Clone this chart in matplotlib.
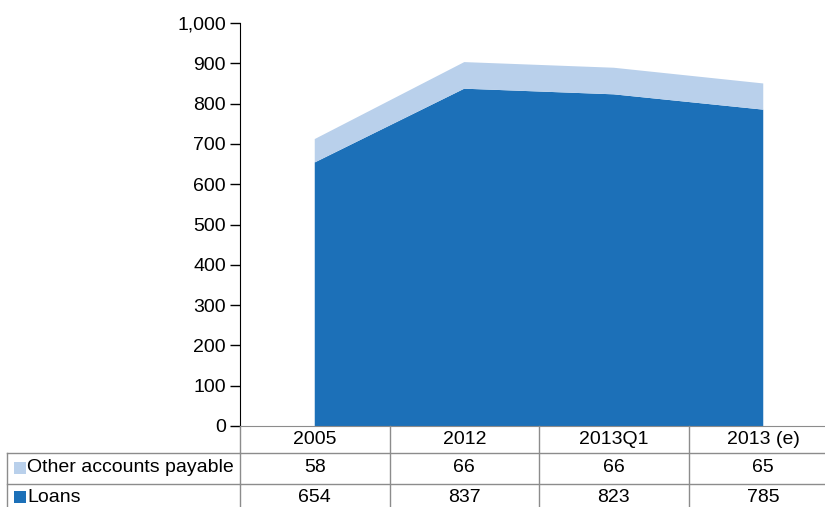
import matplotlib
matplotlib.use("Agg")
import matplotlib.pyplot as plt
from matplotlib.lines import Line2D
from matplotlib.patches import Rectangle
import numpy as np

categories = ["2005", "2012", "2013Q1", "2013 (e)"]
loans = [654, 837, 823, 785]
other_payable = [58, 66, 66, 65]
series_names = ["Other accounts payable", "Loans"]
yticks = [0, 100, 200, 300, 400, 500, 600, 700, 800, 900, 1000]

c_loans = "#1C70B8"
c_other = "#B9D0EB"
grid_c = "#8C8C8C"

plt.rcParams['font.family'] = ['Liberation Sans', 'DejaVu Sans']

W, H = 825, 507
fig = plt.figure(figsize=(W / 100, H / 100), dpi=100)
left_px, right_px, top_px, bottom_px = 240, 838, 23, 426
ax = fig.add_axes([left_px / W, (H - bottom_px) / H,
                   (right_px - left_px) / W, (bottom_px - top_px) / H])

x = np.arange(len(categories))
ax.stackplot(x, loans, other_payable, colors=[c_loans, c_other], linewidth=0)
ax.set_xlim(-0.5, len(categories) - 0.5)
ax.set_ylim(0, 1000)
ax.set_yticks(yticks)
ax.set_yticklabels([f"{v:,}" for v in yticks], fontsize=14)
ax.tick_params(axis='y', direction='out', length=7, width=1, color='black', pad=3)
ax.set_xticks([])
for s in ['top', 'right']:
    ax.spines[s].set_visible(False)
ax.spines['left'].set_color('black')
ax.spines['bottom'].set_color(grid_c)

# table in pixel-based coordinates
ph = bottom_px - top_px
def yf(py):
    return (bottom_px - py) / ph

trans = ax.get_xaxis_transform()
row_bounds = [426, 453, 484, 515]
col_edges = np.arange(len(categories) + 1) - 0.5
fs = 14

# horizontal lines
for yb in row_bounds[1:3]:
    ax.add_line(Line2D([-0.5, len(categories) - 0.5], [yf(yb), yf(yb)], transform=trans,
                       color=grid_c, lw=1, clip_on=False))
# legend column lines (axes fraction x)
lx = (7 - left_px) / (right_px - left_px)
for yb in row_bounds[1:3]:
    ax.add_line(Line2D([lx, 0], [yf(yb), yf(yb)], transform=ax.transAxes,
                       color=grid_c, lw=1, clip_on=False))
ax.add_line(Line2D([lx, lx], [yf(453), yf(515)], transform=ax.transAxes,
                   color=grid_c, lw=1, clip_on=False))
# vertical lines
for ce in col_edges:
    ax.add_line(Line2D([ce, ce], [yf(426), yf(515)], transform=trans,
                       color=grid_c, lw=1, clip_on=False))

# header text
for i, cat in enumerate(categories):
    ax.text(i, yf(440), cat, transform=trans, ha='center', va='center',
            fontsize=fs, clip_on=False)
rows = [other_payable, loans]
row_colors = [c_other, c_loans]
row_centers = [468, 497]
for r, (vals, name, col) in enumerate(zip(rows, series_names, row_colors)):
    yc = yf(row_centers[r])
    for i, v in enumerate(vals):
        ax.text(i, yc, str(v), transform=trans, ha='center', va='center',
                fontsize=fs, clip_on=False)
    # swatch
    sx = (14 - left_px) / (right_px - left_px)
    sw = 12 / (right_px - left_px)
    shh = 12 / ph
    ax.add_patch(Rectangle((sx, yc - shh / 2), sw, shh, transform=ax.transAxes,
                           color=col, clip_on=False, lw=0))
    ax.text((27 - left_px) / (right_px - left_px), yc, name, transform=ax.transAxes,
            ha='left', va='center', fontsize=fs, clip_on=False)

fig.savefig("out.png", dpi=100)
